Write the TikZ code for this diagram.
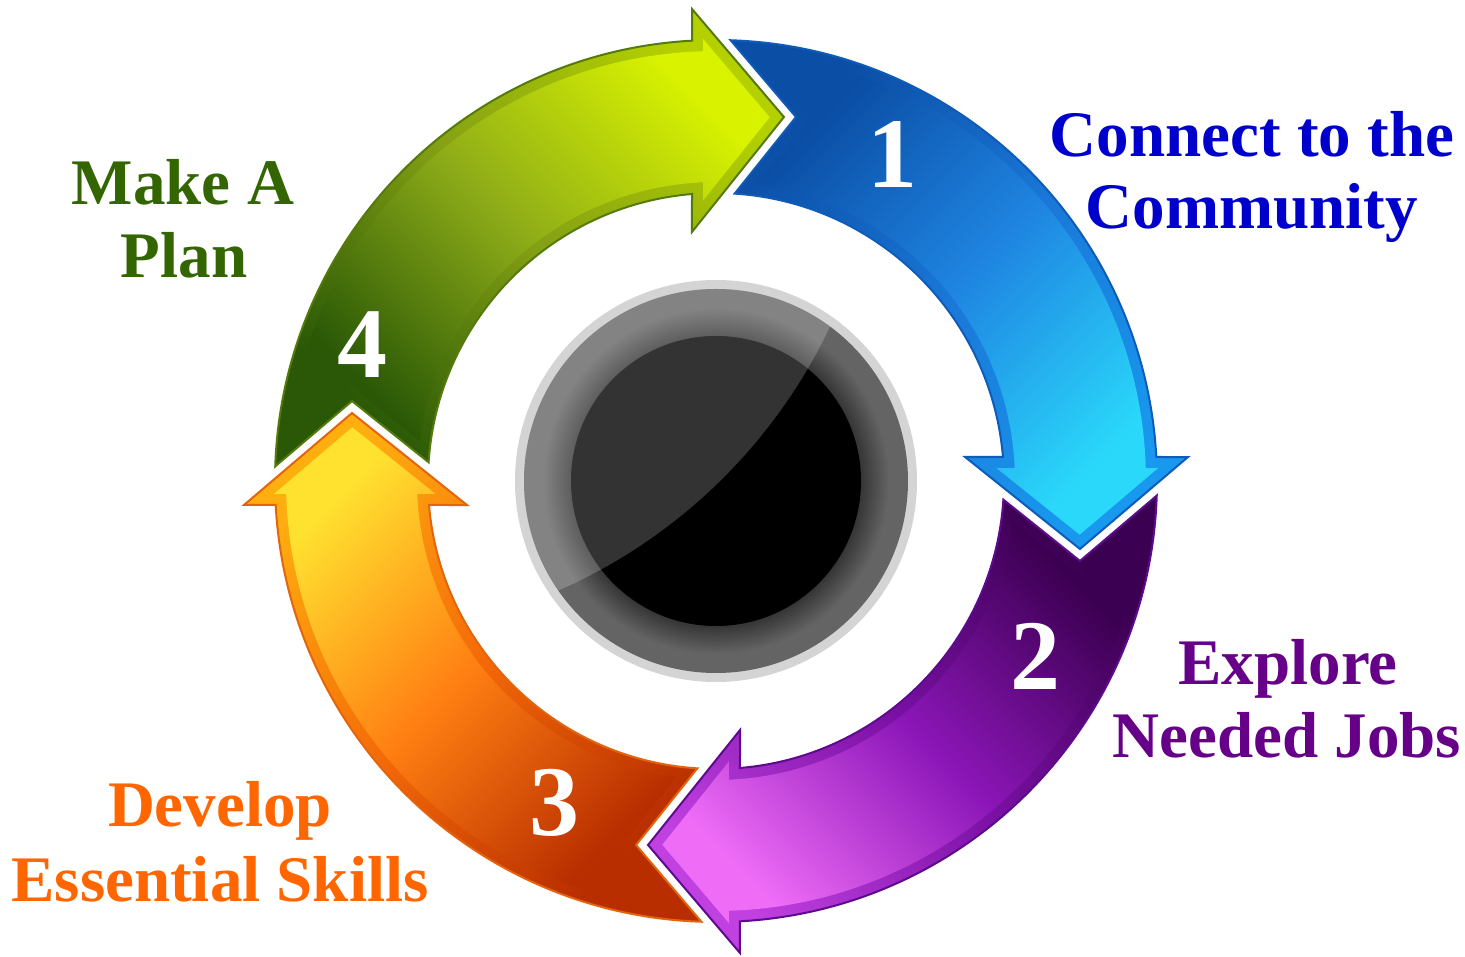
\documentclass[tikz,border=0pt]{standalone}
\usepackage{fontspec}
\setmainfont{Liberation Serif}
% colours
\definecolor{bTail}{HTML}{0B4EA6}\definecolor{bMidB}{HTML}{1A78D8}\definecolor{bHeadB}{HTML}{1898EE}
\definecolor{bMidI}{HTML}{1F86E2}\definecolor{bHeadI}{HTML}{2AD8FA}\definecolor{bLine}{HTML}{0E5CB8}
\definecolor{pTail}{HTML}{3C0052}\definecolor{pMidB}{HTML}{7A10A4}\definecolor{pHeadB}{HTML}{C040E0}
\definecolor{pMidI}{HTML}{8C16B8}\definecolor{pHeadI}{HTML}{EE6CF6}\definecolor{pLine}{HTML}{5E0A8E}
\definecolor{oTail}{HTML}{B82E00}\definecolor{oMidB}{HTML}{F46A08}\definecolor{oHeadB}{HTML}{FFAE10}
\definecolor{oMidI}{HTML}{FF7E12}\definecolor{oHeadI}{HTML}{FFE230}\definecolor{oLine}{HTML}{E4640C}
\definecolor{gTail}{HTML}{2A5806}\definecolor{gMidB}{HTML}{84A014}\definecolor{gHeadB}{HTML}{B4D000}
\definecolor{gMidI}{HTML}{8EAC18}\definecolor{gHeadI}{HTML}{D8F200}\definecolor{gLine}{HTML}{557A0C}
\definecolor{txtBlue}{HTML}{0000CC}\definecolor{txtPurple}{HTML}{660088}
\definecolor{txtOrange}{HTML}{FF6600}\definecolor{txtGreen}{HTML}{336600}
\definecolor{ringLight}{HTML}{D4D4D4}\definecolor{ringGray}{HTML}{646464}\definecolor{ringDark}{HTML}{363636}
\pgfdeclareradialshading{ringshade}{\pgfpoint{0bp}{0bp}}{color(0bp)=(ringDark); color(18.9bp)=(ringDark); color(22.5bp)=(ringGray); color(25bp)=(ringGray); color(50bp)=(ringGray)}
% arrow outline (rotated by #1 degrees)
\newcommand\arrowout[1]{(#1+88.10:441pt) arc[start angle=#1+88.10, end angle=#1+3.12, radius=441pt]
  -- (#1+2.91:472.6pt) -- (#1-10.58:370.3pt) -- (#1+5.51:250.2pt) -- (#1+4.78:288pt)
  arc[start angle=#1+4.78, end angle=#1+86.28, radius=288pt] -- (#1+77.61:372.7pt) -- cycle}
% inset (bevel) outline
\newcommand\arrowin[1]{(#1+84.69:430pt) arc[start angle=#1+84.69, end angle=#1+1.73, radius=430pt]
  -- (#1+1.68:442.3pt) -- (#1-8.40:367.7pt) -- (#1+2.65:280.7pt) -- (#1+2.49:299pt)
  arc[start angle=#1+2.49, end angle=#1+82.31, radius=299pt] -- (#1+75.48:376.2pt) -- cycle}
% #1 rot, #2 shading angle, #3 tail, #4 band mid, #5 band head, #6 inner mid, #7 inner head, #8 outline
\newcommand\cyclearrow[8]{%
  \shade[top color=#3, bottom color=#5, middle color=#4, shading angle=#2] \arrowout{#1};
  \shade[top color=#3, bottom color=#7, middle color=#6, shading angle=#2] \arrowin{#1};
  \draw[#8, line width=2pt, line join=miter] \arrowout{#1};
}
\begin{document}
\begin{tikzpicture}[x=1pt, y=1pt,
  lbl/.style={font=\fontsize{65}{75}\selectfont\bfseries, anchor=base, inner sep=0pt},
  num/.style={font=\fontsize{100}{100}\selectfont\bfseries, text=white, anchor=base, inner sep=0pt}]
\fill[white] (-716,-476) rectangle (749,481);
\useasboundingbox (-716,-476) rectangle (749,481);

% four cycle arrows
\cyclearrow{0}{45}{bTail}{bMidB}{bHeadB}{bMidI}{bHeadI}{bLine}
\cyclearrow{-90}{-45}{pTail}{pMidB}{pHeadB}{pMidI}{pHeadI}{pLine}
\cyclearrow{-180}{-135}{oTail}{oMidB}{oHeadB}{oMidI}{oHeadI}{oLine}
\cyclearrow{-270}{-225}{gTail}{gMidB}{gHeadB}{gMidI}{gHeadI}{gLine}

% central disc
\fill[ringLight] (0,0) circle[radius=201pt];
\shade[shading=ringshade] (0,0) circle[radius=192pt];
\fill[black] (0,0) circle[radius=145pt];
\begin{scope}
  \clip (0,0) circle[radius=192pt];
  \fill[white, opacity=0.2] (-375,386) circle[radius=541pt];
\end{scope}

% numbers
\node[num] (n1) at (176,293) {1};
\node[num] (n2) at (319,-209) {2};
\node[num] (n3) at (-161,-355) {3};
\node[num] (n4) at (-353,103) {4};

% labels
\node[lbl, text=txtBlue] (l1a) at (536,324) {Connect to the};
\node[lbl, text=txtBlue] (l1b) at (536,252) {Community};
\node[lbl, text=txtPurple] (l2a) at (572,-204) {Explore};
\node[lbl, text=txtPurple] (l2b) at (571,-277) {Needed Jobs};
\node[lbl, text=txtOrange] (l3a) at (-496,-346) {Develop};
\node[lbl, text=txtOrange] (l3b) at (-496,-421) {Essential Skills};
\node[lbl, text=txtGreen] (l4a) at (-533,276) {Make A};
\node[lbl, text=txtGreen] (l4b) at (-532,203) {Plan};
\end{tikzpicture}
\end{document}
